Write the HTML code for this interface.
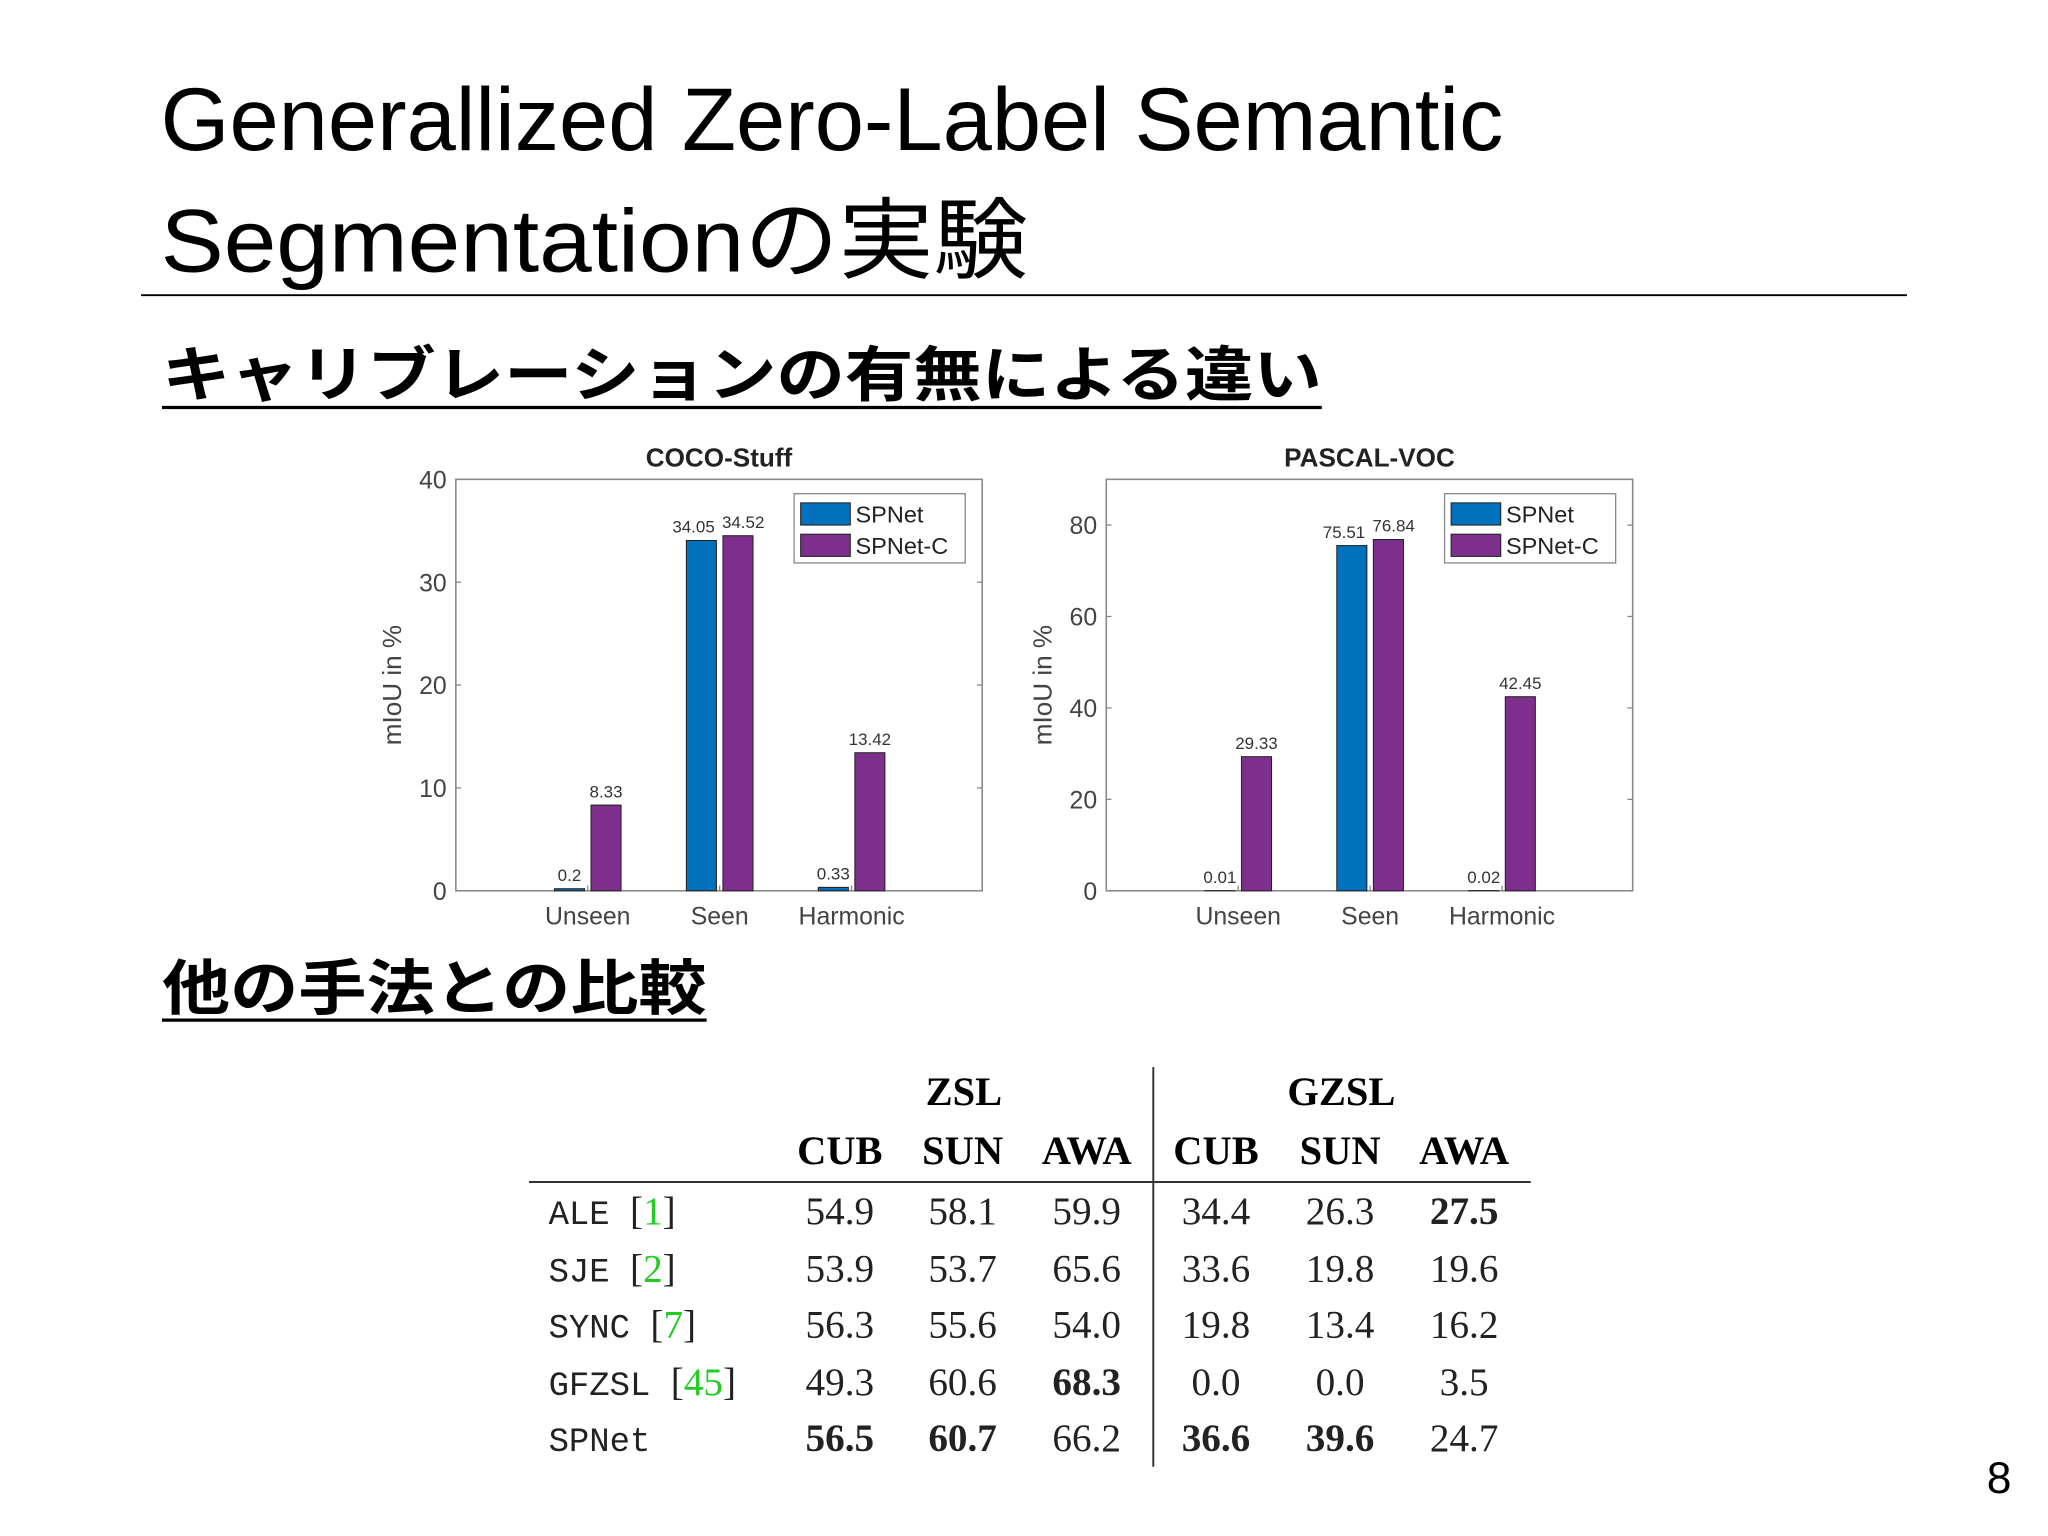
<!DOCTYPE html>
<html><head><meta charset="utf-8">
<style>
html,body{margin:0;padding:0;background:#fff;}
svg{display:block;}
.jp{font-family:"Liberation Sans","Noto Sans CJK JP",sans-serif;}
.ser{font-family:"Liberation Serif","DejaVu Serif",serif;}
.mono{font-family:"Liberation Mono","DejaVu Sans Mono",monospace;}
</style></head>
<body>
<svg id="root" width="2048" height="1536" viewBox="0 0 1568 1176" xmlns="http://www.w3.org/2000/svg">
<rect width="1568" height="1176" fill="#fff"/>
<text x="123" y="115" font-size="68" class="jp" fill="#000" textLength="1028" lengthAdjust="spacingAndGlyphs">Generallized Zero-Label Semantic</text>
<text x="123" y="208" font-size="68" class="jp" fill="#000" textLength="664" lengthAdjust="spacingAndGlyphs">Segmentationの実験</text>
<line x1="108" y1="226" x2="1460" y2="226" stroke="#000" stroke-width="1.5"/>
<text x="124" y="303" font-size="46" font-weight="bold" class="jp" textLength="888" lengthAdjust="spacingAndGlyphs">キャリブレーションの有無による違い</text>
<line x1="124" y1="312" x2="1012" y2="312" stroke="#000" stroke-width="2.5"/>
<text x="124" y="773" font-size="46" font-weight="bold" class="jp" textLength="417" lengthAdjust="spacingAndGlyphs">他の手法との比較</text>
<line x1="124" y1="781" x2="541" y2="781" stroke="#000" stroke-width="2.5"/>
<text x="1540" y="1143" font-size="34" text-anchor="end" class="jp">8</text>
<g id="charts"></g>
<g id="table"></g>
</svg>
<script>
const NS="http://www.w3.org/2000/svg";
const categories=["Unseen","Seen","Harmonic"];
const cocoSPNet=[0.2,34.05,0.33];
const cocoSPNetC=[8.33,34.52,13.42];
const vocSPNet=[0.01,75.51,0.02];
const vocSPNetC=[29.33,76.84,42.45];
const cocoTicks=[0,10,20,30,40];
const vocTicks=[0,20,40,60,80];
const root=document.getElementById('charts');
function el(tag,attrs,parent,txt){const e=document.createElementNS(NS,tag);for(const k in attrs)e.setAttribute(k,attrs[k]);if(txt!==undefined)e.textContent=txt;(parent||root).appendChild(e);return e;}
function chart(id,x0,title,blue,purple,ticks,ymax){
 const g=el('g',{});
 
 
 const L=x0,R=x0+403,T=367,B=682;
 const y=v=>B-(v/ymax)*(B-T);
 const x=i=>L+101+i*101;
 const fr=el('rect',{x:L,y:T,width:R-L,height:B-T,fill:'none',stroke:'#888','stroke-width':1.2},g);
 
 
 const t=el('text',{x:(L+R)/2,y:357,'font-size':20,'font-weight':'bold','text-anchor':'middle',class:'jp',fill:'#222'},g,title);
 
 
 ticks.forEach(v=>{
  el('line',{x1:L,x2:L+4,y1:y(v),y2:y(v),stroke:'#888'},g);
  el('line',{x1:R,x2:R-4,y1:y(v),y2:y(v),stroke:'#888'},g);
  const tl=el('text',{x:L-7,y:y(v)+7,'font-size':19,'text-anchor':'end',class:'jp',fill:'#444'},g,String(v));
  
  
 });
 const yt=el('text',{transform:`translate(${L-42},${(T+B)/2}) rotate(-90)`,'font-size':20,'text-anchor':'middle',class:'jp',fill:'#444'},g,'mIoU in %');
 
 
 categories.forEach((c,i)=>{
  const cx=x(i);
  el('line',{x1:cx,x2:cx,y1:B,y2:B-4,stroke:'#888'},g);
  const cl=el('text',{x:cx,y:708,'font-size':19,'text-anchor':'middle',class:'jp',fill:'#444'},g,c);
  
  
  [[blue[i],'#0072BD',-14,'spnet'],[purple[i],'#7E2F8E',14,'spnet-c']].forEach(([v,col,off,nm])=>{
   const b=el('rect',{x:cx+off-11.5,y:y(v),width:23,height:B-y(v),fill:col,stroke:'#222','stroke-width':0.8},g);
   
   
   const lb=el('text',{x:cx+off+(i==1?(off<0?-6:4):0),y:y(v)-6,'font-size':13,'text-anchor':'middle',class:'jp',fill:'#333'},g,String(v));
   
   
  });
 });
 const lg=el('g',{},g);
 
 
 el('rect',{x:R-144,y:378,width:131,height:53,fill:'#fff',stroke:'#888'},lg);
 [['SPNet','#0072BD',382],['SPNet-C','#7E2F8E',406]].forEach(([n,c,yy])=>{
  const e=el('rect',{x:R-139,y:yy+3,width:38,height:17,fill:c,stroke:'#222','stroke-width':0.8},lg);
  
  
  const tx=el('text',{x:R-97,y:yy+18,'font-size':18,class:'jp',fill:'#222'},lg,n);
  
  
 });
}
chart('coco-stuff',349,'COCO-Stuff',cocoSPNet,cocoSPNetC,cocoTicks,40);
chart('pascal-voc',847,'PASCAL-VOC',vocSPNet,vocSPNetC,vocTicks,90);

const tb=document.getElementById('table');


const methods=["ALE ","SJE ","SYNC ","GFZSL ","SPNet"];
const refs=["1","2","7","45",""];
const rowsVals=[["54.9","58.1","59.9","34.4","26.3","27.5"],["53.9","53.7","65.6","33.6","19.8","19.6"],["56.3","55.6","54.0","19.8","13.4","16.2"],["49.3","60.6","68.3","0.0","0.0","3.5"],["56.5","60.7","66.2","36.6","39.6","24.7"]];
const bolds=[[5],[],[],[2],[0,1,3,4]];
const colX=[643,737,832,931,1026,1121];
const cols=["CUB","SUN","AWA","CUB","SUN","AWA"];
const rowY=[937,981,1024,1068,1111];
el('line',{x1:883,x2:883,y1:817,y2:1123,stroke:'#333','stroke-width':1.5},tb);
el('line',{x1:405,x2:1172,y1:905,y2:905,stroke:'#333','stroke-width':1.5},tb);
el('text',{x:738,y:846,'font-size':31,'font-weight':'bold','text-anchor':'middle',class:'ser'},tb,'ZSL');
el('text',{x:1027,y:846,'font-size':31,'font-weight':'bold','text-anchor':'middle',class:'ser'},tb,'GZSL');
cols.forEach((c,i)=>{const h=el('text',{x:colX[i],y:891,'font-size':31,'font-weight':'bold','text-anchor':'middle',class:'ser'},tb,c);
 
 });
methods.forEach((m,r)=>{
 const t=el('text',{x:420,y:rowY[r],'font-size':26,class:'mono',fill:'#222'},tb);
 
 
 el('tspan',{},t,m);
 if(refs[r]){el('tspan',{class:'ser','font-size':30},t,'[');el('tspan',{class:'ser',fill:'#22cc22','font-size':30},t,refs[r]);el('tspan',{class:'ser','font-size':30},t,']');}
 rowsVals[r].forEach((v,i)=>{const c=el('text',{x:colX[i],y:rowY[r],'font-size':30,'text-anchor':'middle',class:'ser','font-weight':bolds[r].includes(i)?'bold':'normal',fill:'#222'},tb,v);
  
  });
});
</script>
</body></html>
